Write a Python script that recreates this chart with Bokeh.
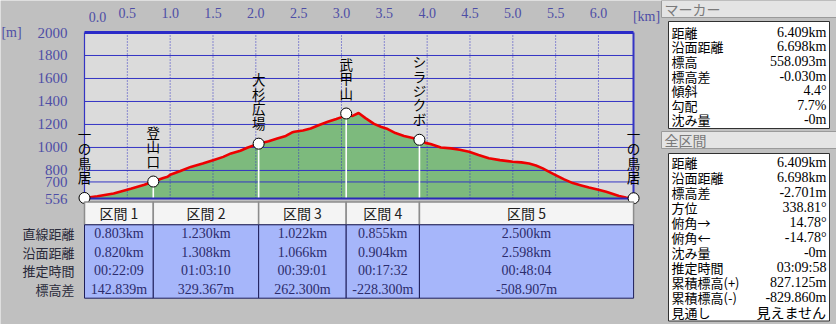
import numpy as np
from bokeh.plotting import figure
from bokeh.models import Range1d, LinearAxis, FixedTicker, NumeralTickFormatter, ColumnDataSource
from bokeh.core.properties import value
from bokeh.embed import file_html
from bokeh.resources import INLINE

# ---------------- data ----------------
profile_km = [0.00, 0.15, 0.34, 0.54, 0.70, 0.803, 0.92, 0.97, 1.00, 1.12, 1.24, 1.38, 1.51,
              1.62, 1.71, 1.82, 1.90, 2.033, 2.15, 2.25, 2.35, 2.42, 2.45, 2.55, 2.64, 2.74,
              2.84, 2.94, 3.01, 3.055, 3.10, 3.13, 3.20, 3.28, 3.38, 3.46, 3.54, 3.63, 3.73,
              3.82, 3.91, 3.98, 4.04, 4.16, 4.28, 4.38, 4.49, 4.60, 4.72, 4.85, 5.00, 5.10,
              5.19, 5.27, 5.35, 5.42, 5.50, 5.60, 5.70, 5.80, 5.89, 6.00, 6.09, 6.17, 6.24,
              6.32, 6.409]
profile_m = [561, 575, 600, 640, 675, 704, 735, 745, 762, 795, 831, 860, 890,
             918, 948, 972, 997, 1033, 1055, 1078, 1100, 1130, 1136, 1148, 1165, 1195,
             1223, 1248, 1266, 1295, 1278, 1275, 1300, 1255, 1205, 1180, 1160, 1125, 1100,
             1085, 1067, 1040, 1030, 1000, 992, 980, 962, 935, 906, 890, 876, 870,
             860, 843, 818, 790, 760, 722, 690, 670, 652, 632, 614, 595, 578,
             565, 558]

wp_names = ["一の鳥居", "登山口", "大杉広場", "武甲山", "シラジクボ", "一の鳥居"]
seg_names = ["区間 1", "区間 2", "区間 3", "区間 4", "区間 5"]
seg_straight_km = [0.803, 1.230, 1.022, 0.855, 2.500]
seg_surface_km = [0.820, 1.308, 1.066, 0.904, 2.598]
seg_time = ["00:22:09", "01:03:10", "00:39:01", "00:17:32", "00:48:04"]
seg_dh = [142.839, 329.367, 262.300, -228.300, -508.907]
end_elev = 558.093
row_names = ["直線距離", "沿面距離", "推定時間", "標高差"]

y_ticks = [556, 700, 800, 1000, 1200, 1400, 1600, 1800, 2000]
x_ticks = [0.5, 1.0, 1.5, 2.0, 2.5, 3.0, 3.5, 4.0, 4.5, 5.0, 5.5, 6.0]
grid_y = [700, 800, 1000, 1200, 1400, 1600, 1800]

marker_labels = ["距離", "沿面距離", "標高", "標高差", "傾斜", "勾配", "沈み量"]
marker_values = ["6.409km", "6.698km", "558.093m", "-0.030m", "4.4°", "7.7%", "-0m"]
total_labels = ["距離", "沿面距離", "標高差", "方位", "俯角→", "俯角←", "沈み量",
                "推定時間", "累積標高(+)", "累積標高(-)", "見通し"]
total_values = ["6.409km", "6.698km", "-2.701m", "338.81°", "14.78°", "-14.78°", "-0m",
                "03:09:58", "827.125m", "-829.860m", "見えません"]

# ---------------- layout constants ----------------
W, H = 836, 324
PX0, PX1 = 84, 633       # plot area left/right (px)
PY0, PY1 = 32, 198       # plot area top/bottom (px)
KM_MAX = 6.409
E_TOP, E_BOT = 2000, 556
kpp = KM_MAX / (PX1 - PX0)
mpp = (E_TOP - E_BOT) / (PY1 - PY0)

BG = "#c0c0c0"
PLOT_BG = "#dbdbdb"
BLUE = "#3434c4"
AXIS_TXT = "#4e4ea6"
JP = value("Noto Sans CJK JP")
SERIF = value("Liberation Serif")

p = figure(width=W, height=H,
           x_range=Range1d(-PX0 * kpp, (W - PX0) * kpp),
           y_range=Range1d(E_BOT - (H - PY1) * mpp, E_TOP + PY0 * mpp),
           x_axis_location=None, y_axis_location=None,
           output_backend="svg", toolbar_location=None, min_border=0,
           background_fill_color=BG, border_fill_color=BG, outline_line_color=None)
for g in p.grid:
    g.visible = False
p.extra_x_ranges = {"px": Range1d(0, W)}
p.extra_y_ranges = {"px": Range1d(H, 0)}

# ---------------- profile chart ----------------
p.quad(left=0, right=KM_MAX, bottom=E_BOT, top=E_TOP, fill_color=PLOT_BG, line_color=None)
p.varea(x=profile_km, y1=E_BOT, y2=profile_m, fill_color="#7dba7d")

p.segment(x0=[0] * len(grid_y), x1=[KM_MAX] * len(grid_y), y0=grid_y, y1=grid_y,
          line_color=BLUE, line_width=1)
p.segment(x0=x_ticks, x1=x_ticks, y0=[E_BOT] * len(x_ticks), y1=[E_TOP] * len(x_ticks),
          line_color=BLUE, line_width=1, line_dash="1 2")

wp_x = [0.0] + list(np.cumsum(seg_straight_km))
start_elev = end_elev - sum(seg_dh)
wp_y = [start_elev] + list(start_elev + np.cumsum(seg_dh))

p.segment(x0=wp_x[1:-1], x1=wp_x[1:-1], y0=wp_y[1:-1], y1=[E_BOT] * 4,
          line_color="white", line_width=1.6)
p.line(profile_km, profile_m, line_color="#ee0000", line_width=2.6)

# borders
p.segment(x0=[0, KM_MAX], x1=[0, KM_MAX], y0=[E_BOT, E_BOT], y1=[E_TOP, E_TOP],
          line_color=BLUE, line_width=[1.2, 2])
p.segment(x0=[0], x1=[KM_MAX], y0=[E_TOP], y1=[E_TOP], line_color="#2a2ac8", line_width=3)
p.segment(x0=[0], x1=[KM_MAX], y0=[E_BOT], y1=[E_BOT], line_color="#2a2ab8", line_width=2)

p.scatter(wp_x, wp_y, size=11, fill_color="white", line_color="black", line_width=1)
p.text(x=wp_x, y=wp_y, text=["\n".join(n) for n in wp_names], text_align="center",
       text_baseline="bottom", y_offset=-11, text_line_height=0.72,
       text_font=JP, text_font_size="13.5px", text_color="black")

# axes
yax = LinearAxis(ticker=FixedTicker(ticks=y_ticks), fixed_location=0,
                 axis_line_color=None, major_tick_line_color=None, minor_tick_line_color=None,
                 major_label_standoff=11, major_label_text_color=AXIS_TXT,
                 major_label_text_font="Liberation Serif", major_label_text_font_size="15px")
p.add_layout(yax, "left")
xax = LinearAxis(ticker=FixedTicker(ticks=x_ticks), fixed_location=E_TOP,
                 formatter=NumeralTickFormatter(format="0.0"),
                 axis_line_color=None, major_tick_line_color=None, minor_tick_line_color=None,
                 major_label_standoff=9, major_label_text_color=AXIS_TXT,
                 major_label_text_font="Liberation Serif", major_label_text_font_size="14px")
p.add_layout(xax, "above")
p.text(x=[0, KM_MAX], y=[E_TOP, E_TOP], text=["0.0", "[km]"], x_offset=[13, 13], y_offset=-16,
       text_align="center", text_baseline="middle", text_font=SERIF,
       text_font_size="14px", text_color=AXIS_TXT)
p.text(x=[0], y=[E_TOP], text=["[m]"], x_offset=-73, text_align="center",
       text_baseline="middle", text_font=SERIF, text_font_size="14px", text_color=AXIS_TXT)

# ---------------- segment table ----------------
left = wp_x[:-1]
right = wp_x[1:]
mid = [(a + b) / 2 for a, b in zip(left, right)]
HDR_T, HDR_B = 201.5, 224.3
ROW_H = 18.35
rows_y = [HDR_B + ROW_H * (i + 0.5) for i in range(4)]
TBL_B = HDR_B + ROW_H * 4

p.quad(left=left, right=right, top=HDR_T, bottom=HDR_B, y_range_name="px",
       fill_color="#f4f4f4", line_color="#8c8c8c", line_width=1.5)
p.quad(left=left, right=right, top=HDR_B, bottom=TBL_B, y_range_name="px",
       fill_color="#a6b6fa", line_color="#1e1e5a", line_width=1)
p.text(x=mid, y=[(HDR_T + HDR_B) / 2] * 5, text=seg_names, y_range_name="px",
       text_align="center", text_baseline="middle", text_font=JP,
       text_font_size="14px", text_color="#202020")

cells_x, cells_y, cells_t = [], [], []
for i in range(5):
    vals = [f"{seg_straight_km[i]:.3f}km", f"{seg_surface_km[i]:.3f}km",
            seg_time[i], f"{seg_dh[i]:.3f}m"]
    for r in range(4):
        cells_x.append(mid[i]); cells_y.append(rows_y[r]); cells_t.append(vals[r])
p.text(x=cells_x, y=cells_y, text=cells_t, y_range_name="px", text_align="center",
       text_baseline="middle", text_font=SERIF, text_font_size="14px", text_color="#2c2c6c")
p.text(x=[74] * 4, y=rows_y, text=row_names, x_range_name="px", y_range_name="px",
       text_align="right", text_baseline="middle", text_font=JP,
       text_font_size="13px", text_color="#2a2a3a")

# ---------------- right panel ----------------
def panel_block(title, top, labels, values, box_top, box_bottom, row0, dy):
    p.quad(left=661, right=836, top=top, bottom=top + 17, x_range_name="px", y_range_name="px",
           fill_color="#e4e4e4", line_color="#9a9a9a", line_width=1)
    p.text(x=[664], y=[top + 8.5], text=[title], x_range_name="px", y_range_name="px",
           text_align="left", text_baseline="middle", text_font=JP,
           text_font_size="14px", text_color="#7a7a7a")
    p.quad(left=668, right=829, top=box_top, bottom=box_bottom, x_range_name="px",
           y_range_name="px", fill_color="white", line_color="#303030", line_width=1)
    ys = [row0 + dy * i for i in range(len(labels))]
    p.text(x=[671] * len(labels), y=ys, text=labels, x_range_name="px", y_range_name="px",
           text_align="left", text_baseline="middle", text_font=JP,
           text_font_size="13px", text_color="black")
    fonts = ["Noto Sans CJK JP" if any(ord(c) > 0x3000 for c in v) else "Liberation Serif"
             for v in values]
    src = ColumnDataSource(dict(x=[826] * len(values), y=ys, t=values, f=fonts))
    p.text(x="x", y="y", text="t", text_font="f", source=src, x_range_name="px",
           y_range_name="px", text_align="right", text_baseline="middle",
           text_font_size="14px", text_color="black")

panel_block("マーカー", 0, marker_labels, marker_values, 21, 128, 31.7, 14.6)
panel_block("全区間", 131, total_labels, total_values, 153, 320.5, 161.7, 15.0)

open("out.html", "w").write(file_html(p, INLINE))
